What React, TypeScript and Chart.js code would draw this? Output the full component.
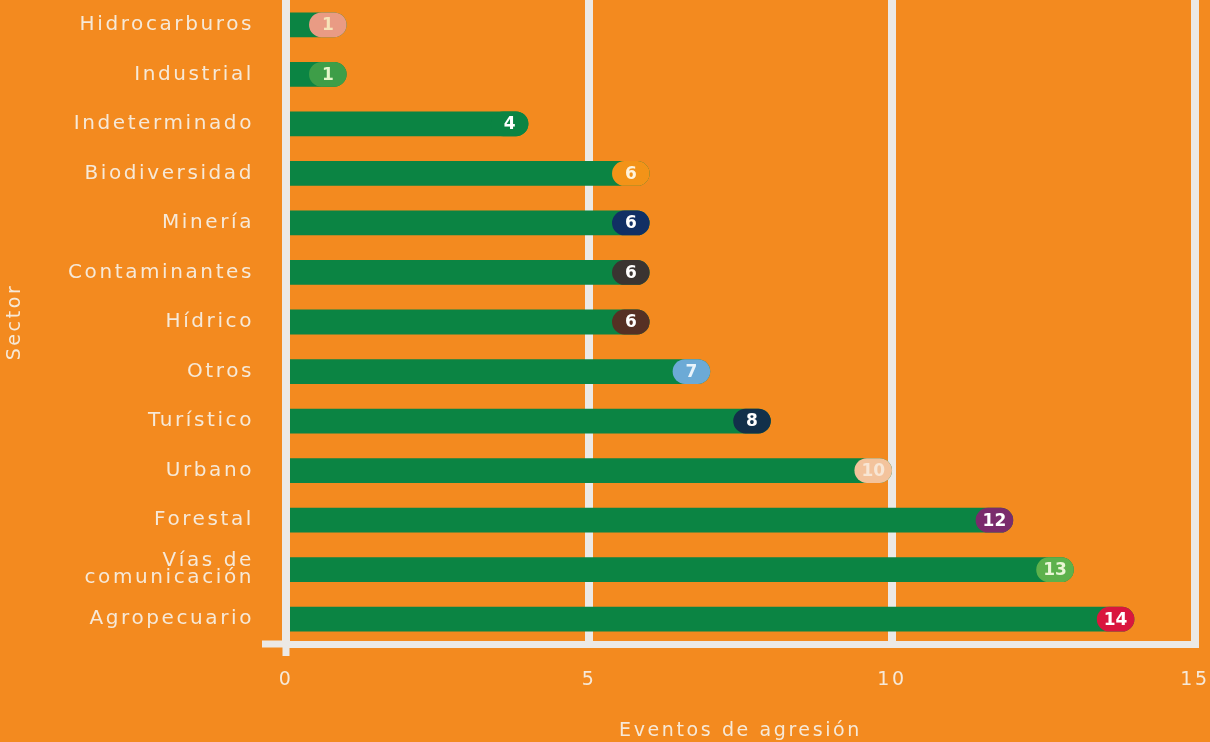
import React, { useEffect, useRef } from "react";
import { Chart, registerables } from "chart.js";

Chart.register(...registerables);

const categories: (string | string[])[] = [
  "Hidrocarburos",
  "Industrial",
  "Indeterminado",
  "Biodiversidad",
  "Minería",
  "Contaminantes",
  "Hídrico",
  "Otros",
  "Turístico",
  "Urbano",
  "Forestal",
  ["Vías de", "comunicación"],
  "Agropecuario",
];

const values: number[] = [1, 1, 4, 6, 6, 6, 6, 7, 8, 10, 12, 13, 14];

const badgeColors: string[] = [
  "#E99B84",
  "#3E9E48",
  "#0B8443",
  "#F39318",
  "#112F64",
  "#3A3431",
  "#553024",
  "#6CAAD6",
  "#12304A",
  "#F3C39C",
  "#7A2B6C",
  "#5DB14C",
  "#D9163E",
];

const badgeTextColors: string[] = [
  "#F6E3B8",
  "#E4F5C9",
  "#FFFFFF",
  "#FFF3DC",
  "#FFFFFF",
  "#FFFFFF",
  "#FFFFFF",
  "#EAF4FB",
  "#FFFFFF",
  "#F8E6D4",
  "#FFFFFF",
  "#E9F6D5",
  "#FFFFFF",
];

const xTicks: number[] = [0, 5, 10, 15];

const BG = "#F38A1F";
const GREEN = "#0B8443";
const GRID = "#ECE9E5";
const TEXT = "#F6E9D8";
const FONT = "'DejaVu Sans', sans-serif";
const BADGE_W = 0.62;

export default function App() {
  const ref = useRef<HTMLCanvasElement | null>(null);

  useEffect(() => {
    if (!ref.current) return;

    const spacingPlugin = {
      id: "spacing",
      beforeDraw(chart: any) {
        chart.ctx.letterSpacing = "2.6px";
      },
    };

    const axisExtPlugin = {
      id: "axisExt",
      beforeDatasetsDraw(chart: any) {
        const { ctx, chartArea } = chart;
        ctx.save();
        ctx.strokeStyle = GRID;
        ctx.lineWidth = 7;
        ctx.beginPath();
        ctx.moveTo(chartArea.left - 24, chartArea.bottom);
        ctx.lineTo(chartArea.left, chartArea.bottom);
        ctx.moveTo(chartArea.left, chartArea.bottom);
        ctx.lineTo(chartArea.left, chartArea.bottom + 12);
        ctx.stroke();
        ctx.restore();
      },
    };

    const badgeLabelPlugin = {
      id: "badgeLabels",
      afterDatasetsDraw(chart: any) {
        const { ctx } = chart;
        const meta = chart.getDatasetMeta(1);
        ctx.save();
        ctx.letterSpacing = "0px";
        ctx.font = `bold 17px ${FONT}`;
        ctx.textAlign = "center";
        ctx.textBaseline = "middle";
        meta.data.forEach((el: any, i: number) => {
          const cx = (el.x + el.base) / 2;
          ctx.fillStyle = badgeTextColors[i];
          ctx.fillText(String(values[i]), cx, el.y + 1);
        });
        ctx.restore();
      },
    };

    const chart = new Chart(ref.current, {
      type: "bar",
      data: {
        labels: categories as any,
        datasets: [
          {
            label: "Eventos de agresión",
            data: values,
            backgroundColor: GREEN,
            borderRadius: 13,
            borderSkipped: "start",
            barPercentage: 0.5,
            categoryPercentage: 1,
            grouped: false,
            order: 1,
          } as any,
          {
            label: "badge",
            data: values.map((v) => [v - BADGE_W, v]),
            backgroundColor: badgeColors,
            borderRadius: 13,
            borderSkipped: false,
            barPercentage: 0.5,
            categoryPercentage: 1,
            grouped: false,
            order: 0,
          } as any,
        ],
      },
      options: {
        indexAxis: "y",
        animation: false,
        responsive: false,
        maintainAspectRatio: false,
        layout: { padding: { top: 0, right: 15, bottom: 0, left: 0 } },
        plugins: {
          legend: { display: false },
          tooltip: { enabled: false },
        },
        scales: {
          x: {
            min: 0,
            max: 15,
            afterBuildTicks(scale: any) {
              scale.ticks = xTicks.map((v) => ({ value: v }));
            },
            ticks: {
              color: TEXT,
              font: { family: FONT, size: 19 },
              padding: 25,
            },
            grid: {
              color: GRID,
              lineWidth: 8,
              drawTicks: false,
            },
            border: { display: true, color: GRID, width: 7 },
            title: {
              display: true,
              text: "Eventos de agresión",
              color: TEXT,
              font: { family: FONT, size: 19 },
              padding: { top: 17, bottom: 0 },
            },
            afterFit(scale: any) {
              scale.height = 98;
              scale.paddingLeft = 0;
              scale.paddingRight = 0;
            },
          },
          y: {
            z: 1,
            ticks: {
              color: TEXT,
              font: { family: FONT, size: 20, lineHeight: 0.85 },
              padding: 32,
            },
            grid: { display: false, drawTicks: false },
            border: { display: true, color: GRID, width: 8 },
            title: {
              display: true,
              text: "Sector",
              color: TEXT,
              font: { family: FONT, size: 19 },
              padding: { top: 4, bottom: 0 },
            },
            afterFit(scale: any) {
              scale.width = 286;
              scale.paddingTop = 0;
              scale.paddingBottom = 0;
            },
          },
        },
      } as any,
      plugins: [spacingPlugin, axisExtPlugin, badgeLabelPlugin],
    });

    return () => chart.destroy();
  }, []);

  return (
    <div
      style={{
        position: "fixed",
        left: 0,
        top: 0,
        width: 1210,
        height: 742,
        background: BG,
        overflow: "hidden",
      }}
    >
      <canvas ref={ref} width={1210} height={742} style={{ display: "block" }} />
    </div>
  );
}
